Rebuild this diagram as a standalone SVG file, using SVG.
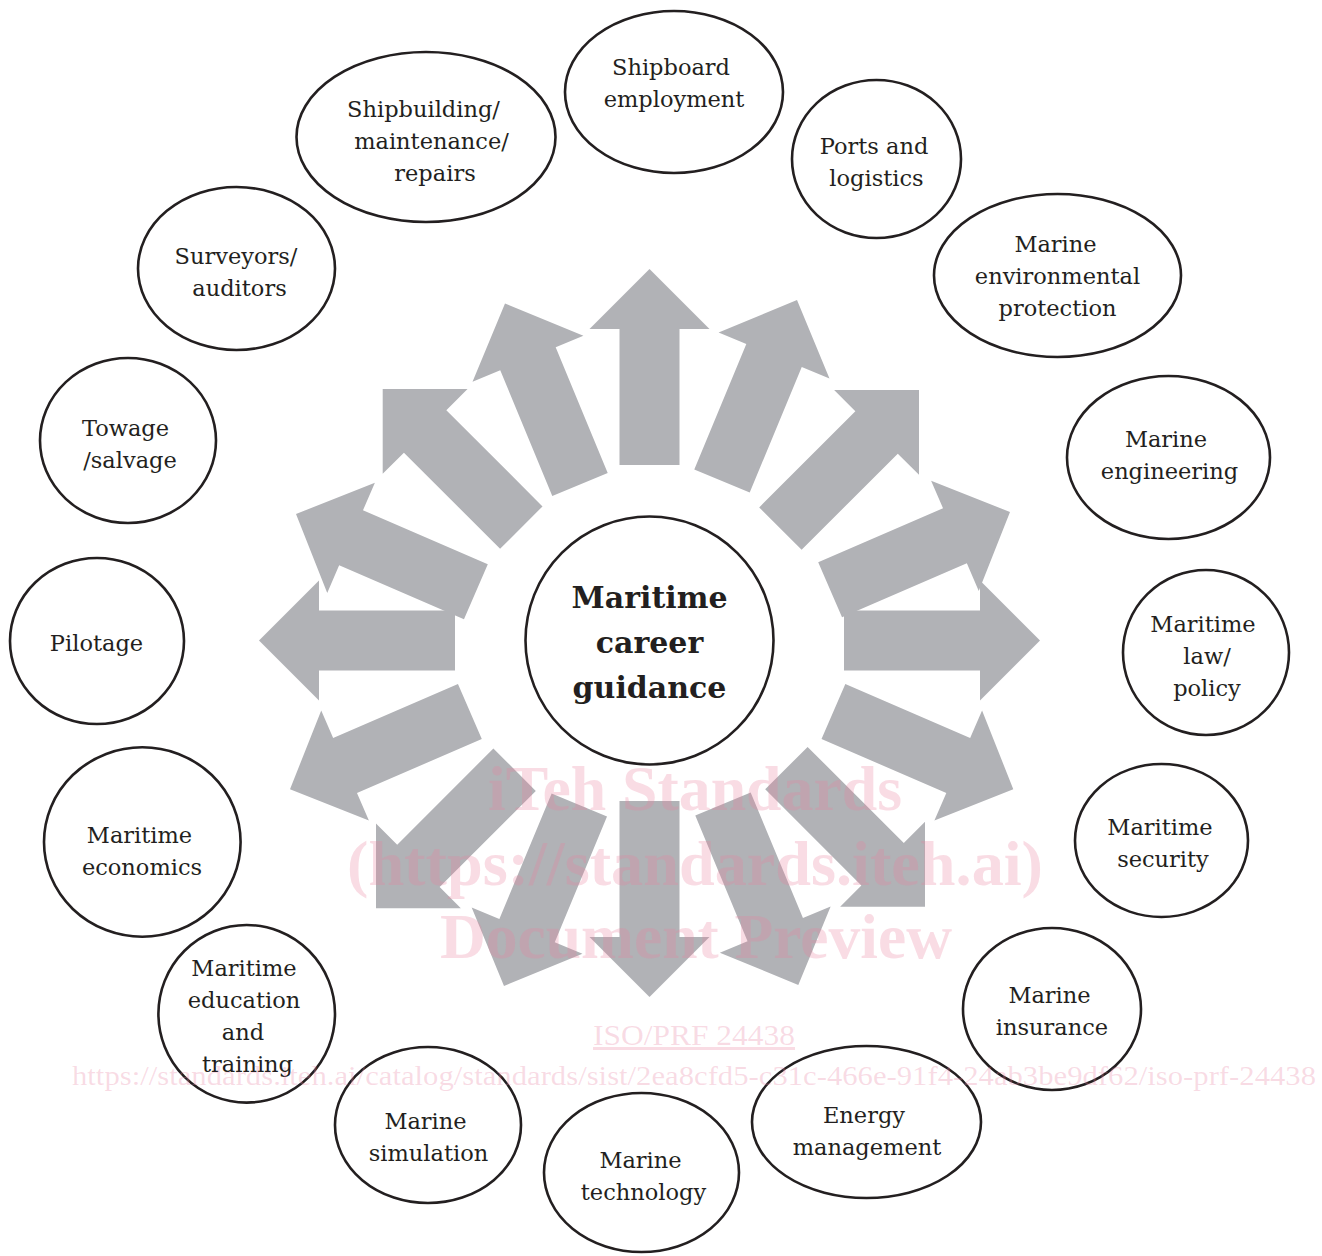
<svg xmlns="http://www.w3.org/2000/svg" xmlns:xlink="http://www.w3.org/1999/xlink" width="1322" height="1256" viewBox="0 0 1322 1256">
<style>
.node ellipse,.node circle{fill:#fff;stroke:#231f20;stroke-width:2.6}
.lbl{font-family:"DejaVu Serif","Liberation Serif",serif;font-size:22.5px;fill:#231f20;text-anchor:middle}
.title{font-family:"DejaVu Serif","Liberation Serif",serif;font-size:30px;font-weight:bold;fill:#231f20;text-anchor:middle}
.arrow{fill:#b1b2b6}
.wm{font-family:"Liberation Serif",serif;fill:#e8829f;fill-opacity:0.28;text-anchor:middle}
.wmb{font-weight:bold;font-size:63px}
</style>
<defs>
<polygon id="arr" points="0,0 -60,-60 -60,-30 -196,-30 -196,30 -60,30 -60,60"/>
</defs>
<rect width="1322" height="1256" fill="#fff"/>
<g id="connectors" class="arrow">
<use xlink:href="#arr" href="#arr" transform="translate(649.5,269) rotate(-90)"/>
<use xlink:href="#arr" href="#arr" transform="translate(797,300) rotate(-67.5)"/>
<use xlink:href="#arr" href="#arr" transform="translate(919,390) rotate(-45)"/>
<use xlink:href="#arr" href="#arr" transform="translate(1010,512) rotate(-23.4)"/>
<use xlink:href="#arr" href="#arr" transform="translate(1040,640.5) rotate(0)"/>
<use xlink:href="#arr" href="#arr" transform="translate(1013.3,789.3) rotate(23.4)"/>
<use xlink:href="#arr" href="#arr" transform="translate(925,906.7) rotate(45)"/>
<use xlink:href="#arr" href="#arr" transform="translate(798.3,985) rotate(67.4)"/>
<use xlink:href="#arr" href="#arr" transform="translate(649.5,997) rotate(90)"/>
<use xlink:href="#arr" href="#arr" transform="translate(504,986) rotate(112.6)"/>
<use xlink:href="#arr" href="#arr" transform="translate(376,908.3) rotate(135)"/>
<use xlink:href="#arr" href="#arr" transform="translate(290,789.3) rotate(156.6)"/>
<use xlink:href="#arr" href="#arr" transform="translate(259,640.5) rotate(180)"/>
<use xlink:href="#arr" href="#arr" transform="translate(296,514) rotate(-156.6)"/>
<use xlink:href="#arr" href="#arr" transform="translate(382.7,389) rotate(-135)"/>
<use xlink:href="#arr" href="#arr" transform="translate(505,303.4) rotate(-112.5)"/>
</g>
<g id="center" class="node">
<circle cx="649.5" cy="640.5" r="124"/>
<text class="title" x="649.5" y="608">Maritime</text>
<text class="title" x="649.5" y="653">career</text>
<text class="title" x="649.5" y="698">guidance</text>
</g>
<g id="shipboard" class="node">
<ellipse cx="674" cy="92" rx="109" ry="81"/>
<text class="lbl" x="671" y="75">Shipboard</text>
<text class="lbl" x="674" y="107">employment</text>
</g>
<g id="ports" class="node">
<ellipse cx="876.5" cy="159" rx="84.5" ry="79"/>
<text class="lbl" x="874" y="154">Ports and</text>
<text class="lbl" x="876.5" y="186">logistics</text>
</g>
<g id="environment" class="node">
<ellipse cx="1057.5" cy="275.5" rx="123.5" ry="81.5"/>
<text class="lbl" x="1055.5" y="252">Marine</text>
<text class="lbl" x="1057.5" y="284">environmental</text>
<text class="lbl" x="1057.5" y="316">protection</text>
</g>
<g id="engineering" class="node">
<ellipse cx="1168.5" cy="457.5" rx="101.5" ry="81.5"/>
<text class="lbl" x="1166" y="447">Marine</text>
<text class="lbl" x="1169.5" y="479">engineering</text>
</g>
<g id="law" class="node">
<ellipse cx="1206" cy="652.5" rx="83" ry="82.5"/>
<text class="lbl" x="1203" y="632">Maritime</text>
<text class="lbl" x="1207" y="664">law/</text>
<text class="lbl" x="1207" y="696">policy</text>
</g>
<g id="security" class="node">
<ellipse cx="1161.5" cy="840.5" rx="86.5" ry="76.5"/>
<text class="lbl" x="1160" y="835">Maritime</text>
<text class="lbl" x="1163" y="867">security</text>
</g>
<g id="insurance" class="node">
<ellipse cx="1052" cy="1009" rx="89" ry="81"/>
<text class="lbl" x="1049.5" y="1003">Marine</text>
<text class="lbl" x="1052" y="1035">insurance</text>
</g>
<g id="energy" class="node">
<ellipse cx="866.5" cy="1122" rx="114.5" ry="76"/>
<text class="lbl" x="864" y="1123">Energy</text>
<text class="lbl" x="867" y="1155">management</text>
</g>
<g id="technology" class="node">
<ellipse cx="641.5" cy="1172.5" rx="97.5" ry="79.5"/>
<text class="lbl" x="640.5" y="1168">Marine</text>
<text class="lbl" x="643.5" y="1200">technology</text>
</g>
<g id="simulation" class="node">
<ellipse cx="428" cy="1125" rx="93" ry="78"/>
<text class="lbl" x="425.5" y="1129">Marine</text>
<text class="lbl" x="428.5" y="1161">simulation</text>
</g>
<g id="education" class="node">
<ellipse cx="246.7" cy="1013.8" rx="88.3" ry="88.8"/>
<text class="lbl" x="244" y="976">Maritime</text>
<text class="lbl" x="244" y="1008">education</text>
<text class="lbl" x="243" y="1040">and</text>
<text class="lbl" x="247.5" y="1072">training</text>
</g>
<g id="economics" class="node">
<ellipse cx="142.3" cy="842" rx="98.3" ry="94.7"/>
<text class="lbl" x="139.5" y="843">Maritime</text>
<text class="lbl" x="142" y="875">economics</text>
</g>
<g id="pilotage" class="node">
<ellipse cx="97" cy="641" rx="87" ry="83"/>
<text class="lbl" x="96.5" y="651">Pilotage</text>
</g>
<g id="towage" class="node">
<ellipse cx="128" cy="440.5" rx="88" ry="82.5"/>
<text class="lbl" x="125.5" y="436">Towage</text>
<text class="lbl" x="130" y="468">/salvage</text>
</g>
<g id="surveyors" class="node">
<ellipse cx="236.5" cy="268.5" rx="98.5" ry="81.5"/>
<text class="lbl" x="236" y="264">Surveyors/</text>
<text class="lbl" x="239.5" y="296">auditors</text>
</g>
<g id="shipbuilding" class="node">
<ellipse cx="426" cy="137" rx="129.5" ry="85"/>
<text class="lbl" x="423.5" y="117">Shipbuilding/</text>
<text class="lbl" x="431.5" y="149">maintenance/</text>
<text class="lbl" x="435" y="181">repairs</text>
</g>
<g id="watermark">
<text class="wm wmb" x="695" y="810" textLength="414" lengthAdjust="spacingAndGlyphs">iTeh Standards</text>
<text class="wm wmb" x="695" y="885" textLength="696" lengthAdjust="spacingAndGlyphs">(https://standards.iteh.ai)</text>
<text class="wm wmb" x="696" y="958" textLength="512" lengthAdjust="spacingAndGlyphs">Document Preview</text>
<text class="wm" x="694" y="1045" font-size="30" text-decoration="underline" textLength="202" lengthAdjust="spacingAndGlyphs">ISO/PRF 24438</text>
<text class="wm" x="694" y="1085" font-size="27" textLength="1244" lengthAdjust="spacingAndGlyphs">https://standards.iteh.ai/catalog/standards/sist/2ea8cfd5-c31c-466e-91f4-24ab3be9df62/iso-prf-24438</text>
</g>
</svg>
